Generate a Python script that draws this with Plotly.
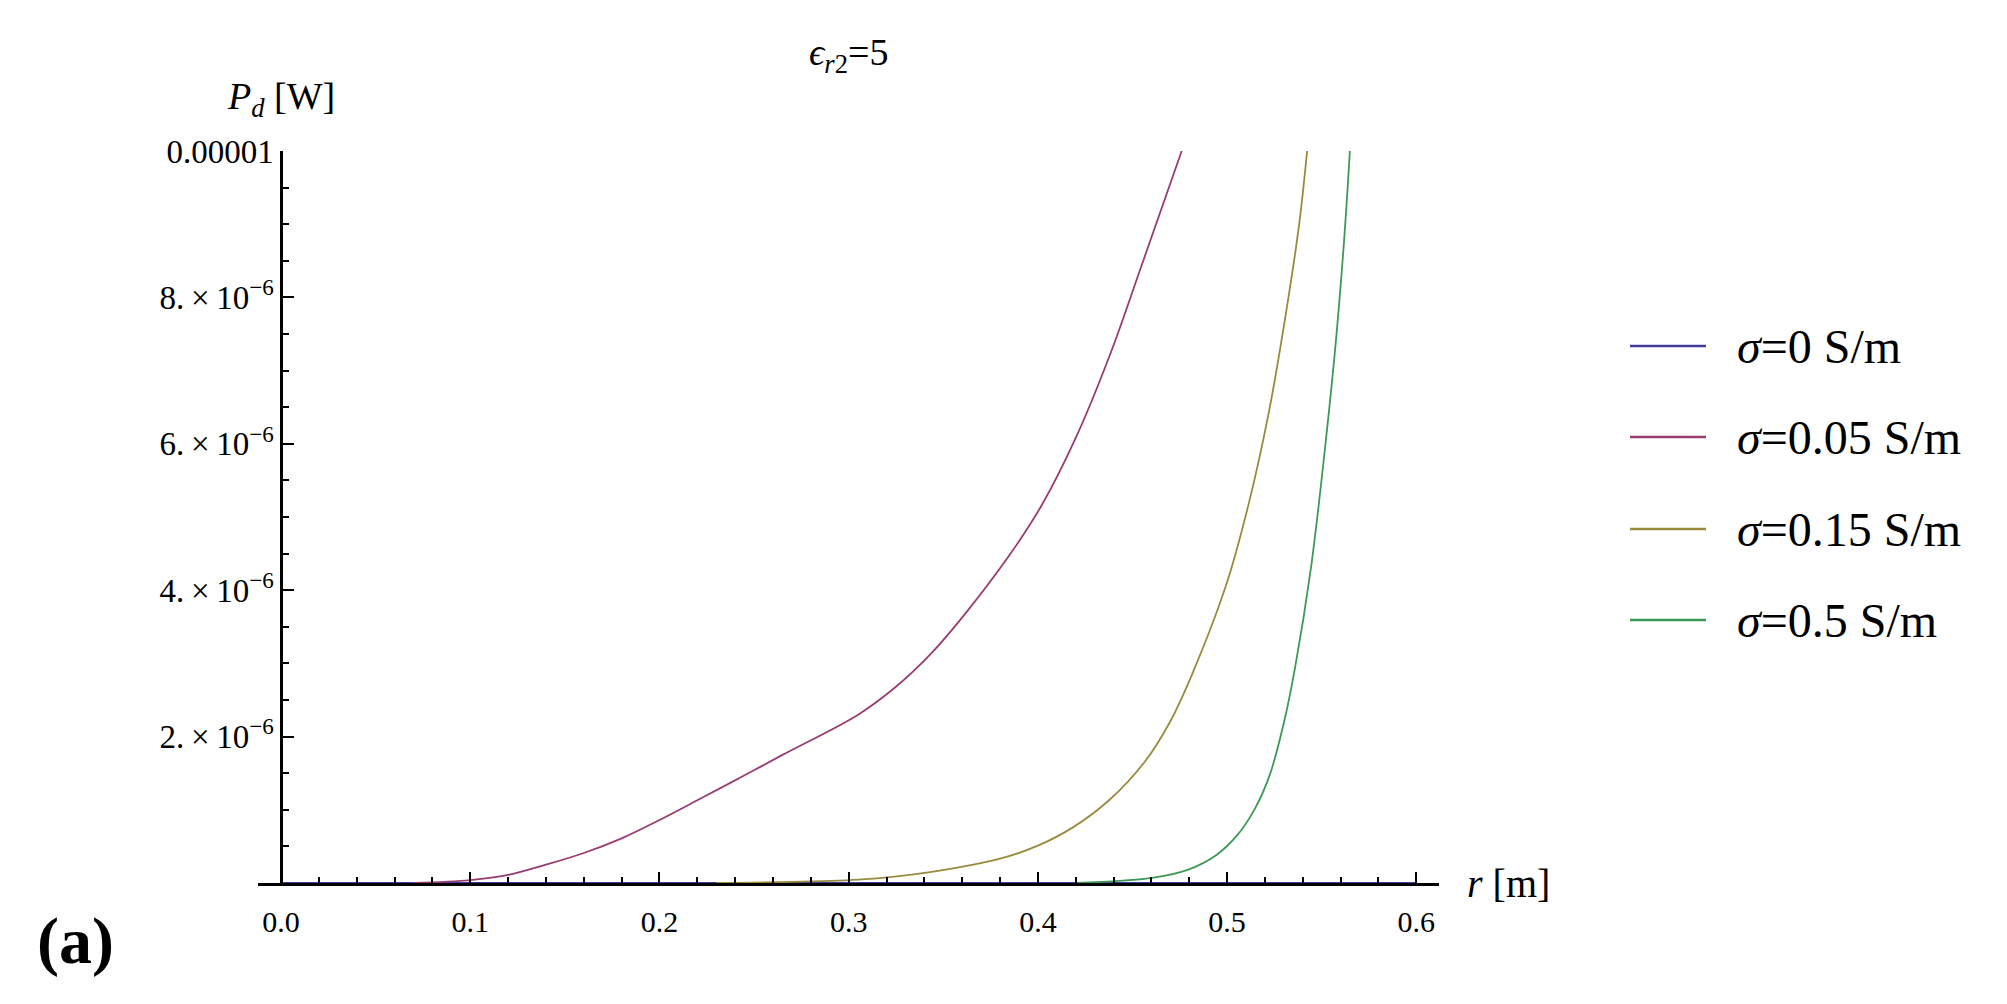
import plotly.graph_objects as go

# sigma = 0 S/m gives no dissipated power
r_s0 = [0.0, 0.6]
p_s0 = [0.0, 0.0]

# sigma = 0.05 S/m
r_s005 = [0.07, 0.10, 0.12, 0.14, 0.16, 0.18, 0.20, 0.22, 0.242, 0.265, 0.305,
          0.324, 0.343, 0.361, 0.385, 0.402, 0.420, 0.438, 0.455, 0.476]
p_s005 = [0.0, 0.04e-6, 0.11e-6, 0.25e-6, 0.41e-6, 0.61e-6, 0.86e-6, 1.13e-6, 1.43e-6,
          1.75e-6, 2.30e-6, 2.66e-6, 3.12e-6, 3.66e-6, 4.48e-6, 5.16e-6, 6.08e-6,
          7.21e-6, 8.45e-6, 10.0e-6]

# sigma = 0.15 S/m
r_s015 = [0.23, 0.26, 0.305, 0.343, 0.381, 0.400, 0.4185, 0.4376, 0.4566, 0.4698,
          0.481, 0.4995, 0.5116, 0.5222, 0.5312, 0.5381, 0.5423]
p_s015 = [0.0, 0.01e-6, 0.045e-6, 0.15e-6, 0.34e-6, 0.51e-6, 0.76e-6, 1.13e-6, 1.66e-6,
          2.20e-6, 2.82e-6, 4.07e-6, 5.20e-6, 6.45e-6, 7.80e-6, 9.00e-6, 10.0e-6]

# sigma = 0.5 S/m
r_s05 = [0.42, 0.4603, 0.4791, 0.4942, 0.5056, 0.5148, 0.5226, 0.5302, 0.5359,
         0.5443, 0.5523, 0.5576, 0.5619, 0.5649]
p_s05 = [0.0, 0.07e-6, 0.18e-6, 0.38e-6, 0.66e-6, 1.02e-6, 1.48e-6, 2.21e-6, 2.94e-6,
         4.30e-6, 6.07e-6, 7.43e-6, 8.80e-6, 10.0e-6]

labels = ["<i>σ</i>=0 S/m", "<i>σ</i>=0.05 S/m", "<i>σ</i>=0.15 S/m", "<i>σ</i>=0.5 S/m"]
colors = ["#3f3d99", "#993d71", "#998b3d", "#3d9956"]

x_ticks = [0.0, 0.1, 0.2, 0.3, 0.4, 0.5, 0.6]
x_ticktext = ["0.0", "0.1", "0.2", "0.3", "0.4", "0.5", "0.6"]
y_ticks = [2e-6, 4e-6, 6e-6, 8e-6, 1e-5]
y_ticktext = ["2.\u2009×\u200910<sup>−6</sup>", "4.\u2009×\u200910<sup>−6</sup>",
              "6.\u2009×\u200910<sup>−6</sup>", "8.\u2009×\u200910<sup>−6</sup>", "0.00001"]

SERIF = "Liberation Serif, Times New Roman, serif"

W, H = 2007, 1004
L, R, T, B = 250, 576, 143, 129
x_range = [-0.0122, 0.612]
plot_w = W - L - R
plot_h = H - T - B

fig = go.Figure()
for r, p, c in zip([r_s0, r_s005, r_s015, r_s05], [p_s0, p_s005, p_s015, p_s05], colors):
    fig.add_trace(go.Scatter(x=r, y=p, mode="lines",
                             line=dict(color=c, width=1.8, shape="spline", smoothing=1.0),
                             showlegend=False))

fig.update_layout(
    width=W, height=H,
    margin=dict(l=L, r=R, t=T, b=B),
    paper_bgcolor="white", plot_bgcolor="white",
    font=dict(family=SERIF, color="black", size=26),
    showlegend=False,
)

fig.update_xaxes(
    range=x_range, showgrid=False, zeroline=False,
    showline=True, linecolor="black", linewidth=2.5,
    tickmode="array", tickvals=x_ticks, ticktext=x_ticktext,
    ticks="inside", ticklen=11, tickwidth=2, tickcolor="black",
    tickfont=dict(size=30), ticklabelstandoff=10,
    minor=dict(tickmode="linear", tick0=0, dtick=0.02, ticks="inside", ticklen=6,
               tickwidth=1.5, tickcolor="black", showgrid=False),
)
fig.update_yaxes(
    range=[0, 1e-5], showgrid=False, zeroline=False,
    anchor="free", position=(0 - x_range[0]) / (x_range[1] - x_range[0]),
    showline=True, linecolor="black", linewidth=2.5,
    tickmode="array", tickvals=y_ticks, ticktext=y_ticktext,
    ticks="inside", ticklen=11, tickwidth=2, tickcolor="black",
    tickfont=dict(size=33),
    minor=dict(tickmode="linear", tick0=0, dtick=5e-7, ticks="inside", ticklen=6,
               tickwidth=1.5, tickcolor="black", showgrid=False),
)

# title and axis labels
fig.add_annotation(text="<i>ϵ</i><sub><i>r</i>2</sub>=5", xref="paper", yref="paper",
                   x=0.5, y=1 + (T - 47) / plot_h, showarrow=False,
                   font=dict(size=38), xanchor="center", yanchor="middle")
fig.add_annotation(text="<i>P</i><sub><i>d</i></sub> [W]", xref="x", yref="paper",
                   x=0, y=1 + (T - 91) / plot_h, showarrow=False,
                   font=dict(size=38), xanchor="center", yanchor="middle")
fig.add_annotation(text="<i>r</i> [m]", xref="paper", yref="y",
                   x=1, y=0, xshift=26, showarrow=False,
                   font=dict(size=40), xanchor="left", yanchor="middle")
fig.add_annotation(text="<b>(a)</b>", xref="paper", yref="paper",
                   x=-(L - 67) / plot_w, y=-(933 - (H - B)) / plot_h, showarrow=False,
                   font=dict(size=66), xanchor="center", yanchor="middle")

# legend drawn by hand to match the long line samples
row_y = [338, 429, 521, 612]
for lab, c, ypx in zip(labels, colors, row_y):
    yp = 1 - (ypx - T) / plot_h
    fig.add_shape(type="line", xref="paper", yref="paper",
                  x0=(1622 - L) / plot_w, x1=(1698 - L) / plot_w, y0=yp, y1=yp,
                  line=dict(color=c, width=2.5))
    fig.add_annotation(text=lab, xref="paper", yref="paper",
                       x=(1727 - L) / plot_w, y=yp, showarrow=False,
                       font=dict(size=48), xanchor="left", yanchor="middle")

fig.write_html("out.html")
